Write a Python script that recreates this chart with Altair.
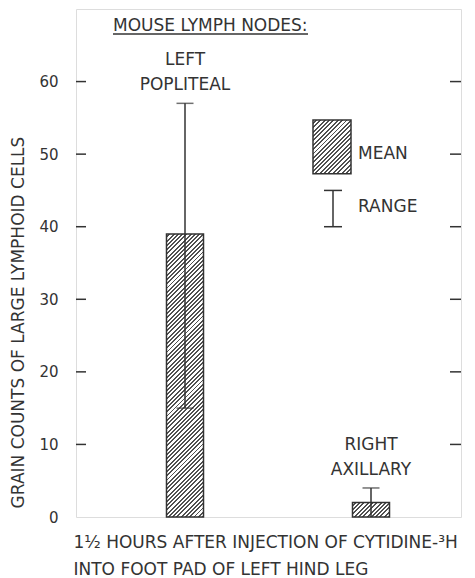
import math
import altair as alt
import pandas as pd

# ---- data ----
nodes = ["LEFT\nPOPLITEAL", "RIGHT\nAXILLARY"]
means = [39, 2]
range_lo = [15, 0]
range_hi = [57, 4]
y_ticks = [0, 10, 20, 30, 40, 50, 60]
legend_mean_box = [47.3, 54.7]
legend_range = [40, 45]
legend_labels = ["MEAN", "RANGE"]
legend_label_y = [50, 42.7]

title_text = "MOUSE LYMPH NODES:"
y_title = "GRAIN COUNTS OF LARGE LYMPHOID CELLS"
x_title = ["1½ HOURS AFTER INJECTION OF CYTIDINE-³H", "INTO FOOT PAD OF LEFT HIND LEG"]

# ---- layout / style ----
W, H = 385, 508
YMAX = 70
FONT = "DejaVu Sans"
INK = "#333333"
BAR_W = 37
FS = 17

df = pd.DataFrame({"node": nodes, "mean": means, "lo": range_lo, "hi": range_hi})
tick_df = pd.DataFrame({"v": y_ticks[1:]})


def hatch(w, h, period=3.0, dark=0.45, color="#505050"):
    s = (w * w + h * h) / (w + h)
    L = (w + h) / math.sqrt(2)
    n = max(1, int(L / period))
    stops = []
    for i in range(n):
        a = i / n
        b = (i + 1 - dark) / n
        c = (i + 1) / n
        stops += [
            alt.GradientStop(color="white", offset=a),
            alt.GradientStop(color="white", offset=b),
            alt.GradientStop(color=color, offset=b),
            alt.GradientStop(color=color, offset=c),
        ]
    return alt.LinearGradient(gradient="linear", stops=stops, x1=0, y1=0, x2=w / s, y2=h / s)


xscale = alt.Scale(type="point", domain=nodes, range=[109, 295], padding=0)
yscale = alt.Scale(domain=[0, YMAX], nice=False, zero=True)

x_enc = alt.X(
    "node:N",
    scale=xscale,
    axis=alt.Axis(
        labels=False, ticks=False, domain=False, grid=False,
        title=x_title, titleFont=FONT, titleFontSize=FS, titleFontWeight="normal",
        titleColor=INK, titleAnchor="start", titleAlign="left", titleBaseline="top",
        titleX=-3, titleY=17, titleLineHeight=27,
    ),
)
y_enc = alt.Y(
    "mean:Q",
    scale=yscale,
    axis=alt.Axis(
        values=y_ticks, ticks=False, domain=False, grid=False,
        labelFont=FONT, labelFontSize=15, labelColor=INK, labelPadding=18,
        title=y_title, titleFont=FONT, titleFontSize=FS, titleFontWeight="normal",
        titleColor=INK, titleX=-58, titleY=313, titleBaseline="middle", titleAngle=-90,
    ),
)

base = alt.Chart(df)

bars = []
for name, m in zip(nodes, means):
    h = m / YMAX * H
    bars.append(
        base.transform_filter(alt.datum.node == name)
        .mark_bar(width=BAR_W, fill=hatch(BAR_W, h), stroke=INK, strokeWidth=1.5)
        .encode(x=x_enc, y=y_enc)
    )

err = base.mark_rule(color=INK, strokeWidth=1.5).encode(
    x=alt.X("node:N", scale=xscale), y=alt.Y("lo:Q", scale=yscale), y2="hi:Q"
)
cap_hi = base.mark_tick(color=INK, size=17, thickness=1.5, orient="horizontal").encode(
    x=alt.X("node:N", scale=xscale), y=alt.Y("hi:Q", scale=yscale)
)
cap_lo = base.transform_filter(alt.datum.lo > 0).mark_tick(
    color=INK, size=17, thickness=1.5, orient="horizontal"
).encode(x=alt.X("node:N", scale=xscale), y=alt.Y("lo:Q", scale=yscale))

labels = base.mark_text(
    font=FONT, fontSize=FS, color=INK, baseline="bottom", lineBreak="\n", lineHeight=25, dy=-34
).encode(x=alt.X("node:N", scale=xscale), y=alt.Y("hi:Q", scale=yscale), text="node:N")

# inward ticks on both sides
lt = alt.Chart(tick_df).mark_rule(color=INK, strokeWidth=1.5).encode(
    y=alt.Y("v:Q", scale=yscale), x=alt.value(0), x2=alt.value(10)
)
rt = alt.Chart(tick_df).mark_rule(color=INK, strokeWidth=1.5).encode(
    y=alt.Y("v:Q", scale=yscale), x=alt.value(W - 11), x2=alt.value(W)
)

# legend
leg_box_df = pd.DataFrame({"a": [legend_mean_box[0]], "b": [legend_mean_box[1]]})
box_h = (legend_mean_box[1] - legend_mean_box[0]) / YMAX * H
leg_box = alt.Chart(leg_box_df).mark_rect(
    fill=hatch(38, box_h), stroke=INK, strokeWidth=1.5
).encode(y=alt.Y("a:Q", scale=yscale), y2="b:Q", x=alt.value(237), x2=alt.value(275))
leg_rng_df = pd.DataFrame({"a": [legend_range[0]], "b": [legend_range[1]]})
leg_rng = alt.Chart(leg_rng_df).mark_rule(color=INK, strokeWidth=1.5).encode(
    y=alt.Y("a:Q", scale=yscale), y2="b:Q", x=alt.value(257)
)
leg_caps_df = pd.DataFrame({"v": legend_range})
leg_caps = alt.Chart(leg_caps_df).mark_rule(color=INK, strokeWidth=1.5).encode(
    y=alt.Y("v:Q", scale=yscale), x=alt.value(248), x2=alt.value(266)
)
leg_txt_df = pd.DataFrame({"t": legend_labels, "y": legend_label_y})
leg_txt = alt.Chart(leg_txt_df).mark_text(
    font=FONT, fontSize=FS, color=INK, align="left", baseline="middle"
).encode(text="t:N", y=alt.Y("y:Q", scale=yscale), x=alt.value(282))

# header with underline
head_df = pd.DataFrame({"t": [title_text]})
head = alt.Chart(head_df).mark_text(
    font=FONT, fontSize=FS, color=INK, align="left", baseline="alphabetic"
).encode(text="t:N", x=alt.value(37), y=alt.value(22))
head_line = alt.Chart(head_df).mark_rule(color=INK, strokeWidth=1.3).encode(
    x=alt.value(37), x2=alt.value(232), y=alt.value(25)
)

chart = (
    alt.layer(*bars, err, cap_hi, cap_lo, labels, lt, rt, leg_box, leg_rng, leg_caps, leg_txt, head, head_line)
    .properties(
        width=W, height=H,
        autosize=alt.AutoSizeParams(type="none"),
        padding={"left": 68, "top": 1, "right": 6, "bottom": 62},
    )
    .configure_view(stroke=INK, strokeWidth=1.5)
    .configure(background="white")
)

chart.save("out.html", embed_options={"renderer": "svg", "actions": False})
